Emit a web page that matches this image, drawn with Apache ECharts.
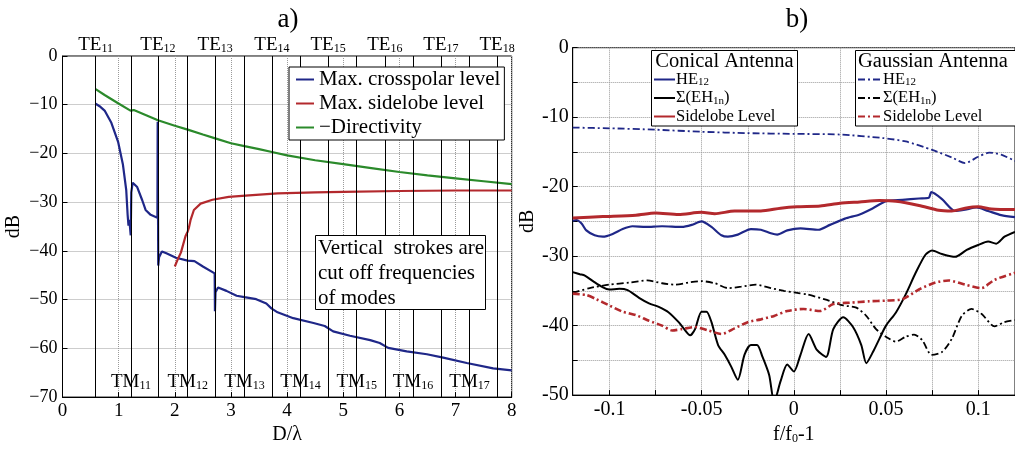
<!DOCTYPE html>
<html lang="en">
<head>
<meta charset="utf-8">
<title>Waveguide modes and antenna levels</title>
<script src="https://cdn.jsdelivr.net/npm/echarts@6/dist/echarts.min.js"></script>
<style>
  html, body { margin: 0; padding: 0; background: #fff; }
  #main { width: 1015px; height: 450px; }
</style>
</head>
<body>
<div id="main"></div>
<script>
// ---------- panel a) ----------
var teCut = [0.59, 1.70, 2.72, 3.73, 4.73, 5.74, 6.74, 7.74];
var teIdx = ['11', '12', '13', '14', '15', '16', '17', '18'];
var tmCut = [1.22, 2.23, 3.24, 4.24, 5.24, 6.24, 7.25];
var tmIdx = ['11', '12', '13', '14', '15', '16', '17'];

var crossPolar = [
  [0.59, -9.8], [0.66, -10.3], [0.75, -11.2], [0.87, -13.7], [0.99, -17.6], [1.075, -22.2],
  [1.135, -27.5], [1.16, -32.6], [1.175, -34.8], [1.19, -33.6], [1.215, -36.8], [1.225, -28.0],
  [1.25, -26.0], [1.27, -25.9], [1.33, -26.9], [1.42, -29.6], [1.48, -31.6], [1.57, -32.6],
  [1.69, -33.2], [1.695, -13.5], [1.70, -13.5], [1.705, -43.0], [1.72, -41.3], [1.77, -40.1],
  [1.85, -40.5], [2.02, -41.4], [2.23, -42.0], [2.35, -42.1], [2.5, -43.2], [2.71, -44.6],
  [2.715, -52.4], [2.725, -48.5], [2.77, -47.5], [2.92, -48.2], [3.1, -49.2], [3.24, -49.5],
  [3.45, -49.9], [3.63, -50.8], [3.72, -51.8], [3.83, -52.6], [4.11, -53.8], [4.47, -54.8],
  [4.67, -55.4], [4.82, -56.5], [5.12, -57.4], [5.48, -58.3], [5.65, -58.9], [5.8, -59.9],
  [6.13, -60.6], [6.49, -61.2], [6.78, -61.9], [7.2, -63.0], [7.67, -64.1], [8.0, -64.5]
];
var sidelobeA = [
  [2.0, -43.2], [2.05, -41.8], [2.11, -40.3], [2.19, -37.0], [2.23, -36.0], [2.25, -35.3],
  [2.28, -33.7], [2.34, -31.6], [2.46, -30.3], [2.67, -29.5], [2.96, -28.9], [3.32, -28.6],
  [3.83, -28.2], [4.5, -28.0], [5.0, -27.9], [6.0, -27.7], [7.0, -27.6], [8.0, -27.6]
];
var directivity = [
  [0.59, -6.8], [0.75, -8.0], [0.99, -9.7], [1.21, -11.2], [1.24, -11.0], [1.27, -11.1],
  [1.5, -12.2], [1.70, -13.2], [2.0, -14.3], [2.23, -15.1], [2.5, -16.1], [2.72, -16.9],
  [3.0, -17.9], [3.24, -18.5], [3.5, -19.1], [3.73, -19.7], [4.0, -20.4], [4.5, -21.4],
  [5.0, -22.2], [5.5, -23.0], [6.0, -23.8], [6.5, -24.5], [7.0, -25.1], [7.5, -25.7], [8.0, -26.3]
];

// ---------- panel b) ----------
var bTicks = [-0.1, -0.075, -0.05, -0.025, 0, 0.025, 0.05, 0.075, 0.1];
var bLabels = [-0.1, -0.05, 0, 0.05, 0.1];

var coneHE12 = [
  [-0.12, -24.9], [-0.118, -24.8], [-0.1152, -25.3], [-0.1126, -26.3], [-0.1081, -27.0],
  [-0.1036, -27.2], [-0.0983, -26.8], [-0.0929, -26.1], [-0.0876, -25.7], [-0.0804, -25.8],
  [-0.0715, -25.7], [-0.0608, -25.8], [-0.0554, -25.5], [-0.0501, -25.0], [-0.0447, -25.8],
  [-0.0393, -27.0], [-0.0358, -27.2], [-0.0304, -26.9], [-0.0233, -26.1], [-0.0179, -26.2],
  [-0.0125, -26.7], [-0.009, -26.9], [-0.0036, -26.3], [0.0036, -26.0], [0.0134, -26.2],
  [0.0196, -25.5], [0.0277, -24.6], [0.0357, -24.0], [0.0429, -23.1], [0.05, -22.1],
  [0.0589, -21.9], [0.0679, -21.7], [0.0732, -21.6], [0.0746, -20.8], [0.0804, -21.8],
  [0.0875, -23.5], [0.0929, -23.3], [0.0991, -23.0], [0.1054, -23.5], [0.1125, -24.1], [0.12, -24.4]
];
var coneEH = [
  [-0.12, -32.3], [-0.1161, -32.6], [-0.1134, -32.8], [-0.109, -33.6], [-0.1036, -34.5],
  [-0.1001, -34.8], [-0.0947, -34.7], [-0.0902, -34.9], [-0.084, -36.0], [-0.0786, -36.8],
  [-0.0733, -37.3], [-0.0679, -38.1], [-0.0625, -39.5], [-0.0598, -40.4], [-0.0563, -41.4],
  [-0.0536, -40.5], [-0.0501, -38.0], [-0.0474, -38.0], [-0.0447, -39.5], [-0.0411, -42.8],
  [-0.0375, -44.2], [-0.034, -45.9], [-0.0304, -47.8], [-0.0268, -44.2], [-0.0233, -42.8],
  [-0.02, -42.8], [-0.017, -44.5], [-0.0134, -47.1], [-0.0107, -51.0], [-0.0072, -48.0],
  [-0.0036, -45.6], [0, -46.6], [0.0036, -44.2], [0.008, -41.2], [0.0125, -43.5],
  [0.0175, -44.5], [0.0214, -40.5], [0.0268, -38.8], [0.0321, -40.2], [0.0366, -42.8],
  [0.0393, -45.4], [0.0429, -43.8], [0.0464, -41.9], [0.05, -40.0], [0.0554, -38.1],
  [0.0607, -35.5], [0.0661, -32.4], [0.0714, -29.8], [0.075, -29.2], [0.0804, -29.7],
  [0.0875, -30.1], [0.0938, -29.1], [0.1, -28.4], [0.1054, -27.9], [0.1098, -28.2],
  [0.1143, -27.2], [0.12, -26.5]
];
var coneSide = [
  [-0.12, -24.5], [-0.1036, -24.3], [-0.0857, -24.1], [-0.0751, -23.8], [-0.0626, -24.0],
  [-0.0501, -23.7], [-0.0429, -23.9], [-0.0322, -23.5], [-0.0179, -23.5], [-0.0072, -23.1],
  [0.0018, -22.9], [0.0143, -22.8], [0.025, -22.4], [0.0357, -22.2], [0.0464, -22.0],
  [0.0554, -22.1], [0.0679, -22.7], [0.0786, -23.4], [0.0857, -23.5], [0.0929, -23.1],
  [0.1, -22.9], [0.1072, -23.2], [0.12, -23.3]
];
var gaussHE12 = [
  [-0.12, -11.5], [-0.1, -11.6], [-0.075, -11.8], [-0.05, -12.1], [-0.025, -12.3], [0, -12.4],
  [0.025, -12.5], [0.0482, -13.0], [0.0607, -13.5], [0.075, -14.7], [0.0857, -15.8],
  [0.0929, -16.6], [0.1, -15.7], [0.106, -15.1], [0.1125, -15.4], [0.12, -16.3]
];
var gaussEH = [
  [-0.12, -35.3], [-0.1108, -34.6], [-0.1001, -34.1], [-0.0893, -33.8], [-0.0795, -33.5],
  [-0.0715, -33.9], [-0.0644, -34.1], [-0.0572, -33.8], [-0.0501, -33.6], [-0.0429, -33.9],
  [-0.0358, -34.6], [-0.0286, -34.4], [-0.0206, -34.1], [-0.0125, -34.6], [-0.0054, -35.0],
  [0.0018, -35.3], [0.0071, -35.5], [0.0179, -36.3], [0.0268, -37.1], [0.0339, -37.4],
  [0.0393, -38.6], [0.0446, -40.5], [0.05, -41.6], [0.0554, -42.3], [0.0607, -41.6],
  [0.0652, -41.3], [0.0697, -42.1], [0.0747, -44.2], [0.0804, -43.8], [0.0857, -41.9],
  [0.0911, -38.6], [0.0964, -37.6], [0.1018, -38.3], [0.1089, -40.1], [0.1143, -39.5], [0.12, -39.2]
];
var gaussSide = [
  [-0.12, -35.4], [-0.1126, -35.6], [-0.1072, -36.2], [-0.1001, -37.1], [-0.0929, -38.0],
  [-0.0857, -38.5], [-0.0786, -39.3], [-0.0715, -40.0], [-0.0661, -40.7], [-0.0608, -40.5],
  [-0.0536, -40.2], [-0.0465, -40.7], [-0.0393, -41.2], [-0.0322, -40.4], [-0.025, -39.5],
  [-0.0179, -39.1], [-0.0107, -38.6], [-0.0036, -37.9], [0.0053, -37.6], [0.0143, -37.9],
  [0.0214, -36.9], [0.0304, -36.7], [0.0411, -36.5], [0.05, -36.4], [0.0589, -36.2],
  [0.0679, -34.8], [0.0768, -33.8], [0.084, -33.5], [0.0929, -34.1], [0.1018, -34.6],
  [0.1089, -33.4], [0.12, -32.4]
];

var FONT = 'Liberation Serif';
var BLUE = '#1f2788', RED = '#b3292d', GREEN = '#2b8a2b', BLACK = '#000';
var DASHDOT = [7, 3, 2, 3];

var subRich = {
  m: { fontFamily: FONT, fontSize: 19, color: '#000' },
  s: { fontFamily: FONT, fontSize: 12, color: '#000', padding: [7, 0, 0, 0] }
};
var legRich = {
  t: { fontFamily: FONT, fontSize: 16.5, color: '#000' },
  s: { fontFamily: FONT, fontSize: 11, color: '#000', padding: [6, 0, 0, 0] }
};
var legNames = {
  'Conical HE12': '{t|HE}{s|12}', 'Conical EH': '{t|\u03a3(EH}{s|1n}{t|)}', 'Conical SL': '{t|Sidelobe Level}',
  'Gaussian HE12': '{t|HE}{s|12}', 'Gaussian EH': '{t|\u03a3(EH}{s|1n}{t|)}', 'Gaussian SL': '{t|Sidelobe Level}'
};

function minusFmt(v) { return v < 0 ? '\u2212' + (-v) : String(v); }

function axisCommon(extra) {
  var base = {
    type: 'value',
    axisLine: { show: true, onZero: false, lineStyle: { color: '#000', width: 1 } },
    axisTick: { show: true, inside: true, length: 5, lineStyle: { color: '#000' } },
    splitLine: { show: true, lineStyle: { type: 'dotted', color: '#9a9a9a', width: 1 } },
    nameLocation: 'middle',
    nameTextStyle: { fontFamily: FONT, fontSize: 20, color: '#000' }
  };
  for (var k in extra) base[k] = extra[k];
  return base;
}

function lineSeries(name, data, xi, color, width, dash) {
  return {
    type: 'line', name: name, data: data, xAxisIndex: xi, yAxisIndex: xi,
    symbol: 'none', showSymbol: false, smooth: xi === 1 ? 0.25 : false,
    lineStyle: { color: color, width: width, type: dash || 'solid' },
    itemStyle: { color: color }, z: 3
  };
}

var chart = echarts.init(document.getElementById('main'), null, { renderer: 'canvas' });

chart.setOption({
  animation: false,
  backgroundColor: '#fff',
  grid: [
    { left: 62.5, right: 503.3, top: 56, bottom: 39.3, show: true, borderColor: '#000', borderWidth: 1, backgroundColor: 'transparent' },
    { left: 572.7, right: -5.9, top: 47.7, bottom: 49, show: true, borderColor: '#000', borderWidth: 1, backgroundColor: 'transparent' }
  ],
  xAxis: [
    axisCommon({
      gridIndex: 0, min: 0, max: 8, interval: 1,
      axisLabel: { fontFamily: FONT, fontSize: 19, color: '#000', margin: 4 },
      name: 'D/\u03bb', nameGap: 19
    }),
    axisCommon({
      gridIndex: 1, min: -0.12, max: 0.12,
      axisTick: { show: true, inside: true, length: 5, customValues: bTicks, lineStyle: { color: '#000' } },
      axisLabel: { fontFamily: FONT, fontSize: 20, color: '#000', margin: 5, customValues: bLabels },
      name: '{n|f/f}{s|0}{n|-1}', nameGap: 23,
      nameTextStyle: {
        rich: {
          n: { fontFamily: FONT, fontSize: 20, color: '#000' },
          s: { fontFamily: FONT, fontSize: 12, color: '#000', padding: [8, 0, 0, 0] }
        }
      }
    })
  ],
  yAxis: [
    axisCommon({
      gridIndex: 0, min: -70, max: 0, interval: 10,
      axisLabel: { fontFamily: FONT, fontSize: 18, color: '#000', margin: 5, formatter: minusFmt },
      name: 'dB', nameGap: 39, nameRotate: 90
    }),
    axisCommon({
      gridIndex: 1, min: -50, max: 0, interval: 5,
      axisLabel: {
        fontFamily: FONT, fontSize: 20, color: '#000', margin: 4,
        formatter: function (v) { return v % 10 === 0 ? String(v) : ''; }
      },
      name: 'dB', nameGap: 34, nameRotate: 90
    })
  ],
  legend: [
    {
      data: ['Max. crosspolar level', 'Max. sidelobe level', '\u2212Directivity'],
      orient: 'vertical', left: 289, top: 67, z: 6,
      backgroundColor: '#fff', borderColor: '#000', borderWidth: 1,
      padding: [2, 4, 2, 6], itemGap: 3, itemWidth: 18, itemHeight: 12,
      selectedMode: false, itemStyle: { opacity: 0 },
      textStyle: { fontFamily: FONT, fontSize: 21, color: '#000' }
    },
    {
      data: ['Conical HE12', 'Conical EH', 'Conical SL'],
      orient: 'vertical', left: 653, top: 71, z: 20, padding: 0,
      itemGap: 1.5, itemWidth: 21, itemHeight: 10, selectedMode: false,
      itemStyle: { opacity: 0 },
      formatter: function (n) { return legNames[n]; },
      textStyle: { rich: legRich, padding: [0, 0, 0, -4] }
    },
    {
      data: ['Gaussian HE12', 'Gaussian EH', 'Gaussian SL'],
      orient: 'vertical', left: 857, top: 71, z: 20, padding: 0,
      itemGap: 1.5, itemWidth: 24, itemHeight: 10, selectedMode: false,
      itemStyle: { opacity: 0 },
      formatter: function (n) { return legNames[n]; },
      textStyle: { rich: legRich, padding: [0, 0, 0, -4] }
    }
  ],
  graphic: [
    { type: 'text', x: 288, y: 20, z: 30, style: { text: 'a)', fontFamily: FONT, fontSize: 27, fill: '#000', align: 'center', verticalAlign: 'middle' } },
    { type: 'text', x: 797, y: 20, z: 30, style: { text: 'b)', fontFamily: FONT, fontSize: 27, fill: '#000', align: 'center', verticalAlign: 'middle' } },
    { type: 'rect', z: 10, shape: { x: 315.5, y: 235.5, width: 170, height: 74 }, style: { fill: '#fff', stroke: '#000', lineWidth: 1 } },
    { type: 'text', x: 318, y: 236, z: 11, style: { text: 'Vertical  strokes are\ncut off frequencies\nof modes', fontFamily: FONT, fontSize: 21, lineHeight: 25, fill: '#000', align: 'left', verticalAlign: 'top' } },
    { type: 'rect', z: 10, shape: { x: 651.5, y: 50.5, width: 146, height: 75.5 }, style: { fill: '#fff', stroke: '#000', lineWidth: 1 } },
    { type: 'text', x: 724.5, y: 62, z: 11, style: { text: 'Conical Antenna', fontFamily: FONT, fontSize: 20.5, fill: '#000', align: 'center', verticalAlign: 'middle' } },
    { type: 'rect', z: 10, shape: { x: 855.5, y: 50.5, width: 175, height: 75.5 }, style: { fill: '#fff', stroke: '#000', lineWidth: 1 } },
    { type: 'text', x: 858, y: 62, z: 11, style: { text: 'Gaussian Antenna', fontFamily: FONT, fontSize: 20.5, fill: '#000', align: 'left', verticalAlign: 'middle' } }
  ],
  series: [
    // mode cut-off strokes
    {
      type: 'line', name: 'TE cut-offs', data: [], xAxisIndex: 0, yAxisIndex: 0, silent: true,
      markLine: {
        silent: true, symbol: 'none', animation: false,
        lineStyle: { color: '#000', width: 1, type: 'solid' },
        label: {
          show: true, position: 'end', distance: 1,
          formatter: function (p) { return '{m|TE}{s|' + p.name + '}'; }, rich: subRich
        },
        data: teCut.map(function (x, i) { return { xAxis: x, name: teIdx[i] }; })
      }
    },
    {
      type: 'line', name: 'TM cut-offs', data: [], xAxisIndex: 0, yAxisIndex: 0, silent: true,
      markLine: {
        silent: true, symbol: 'none', animation: false,
        lineStyle: { color: '#000', width: 1, type: 'solid' },
        label: { show: false },
        data: tmCut.map(function (x) { return { xAxis: x }; })
      },
      markPoint: {
        silent: true, symbol: 'circle', symbolSize: 0, animation: false,
        itemStyle: { color: '#000' },
        label: {
          show: true, position: 'inside', color: '#000',
          formatter: function (p) { return '{m|TM}{s|' + p.name + '}'; }, rich: subRich
        },
        data: tmCut.map(function (x, i) { return { coord: [x, -67], name: tmIdx[i] }; })
      }
    },
    lineSeries('Max. crosspolar level', crossPolar, 0, BLUE, 2.2),
    lineSeries('Max. sidelobe level', sidelobeA, 0, RED, 2.2),
    lineSeries('\u2212Directivity', directivity, 0, GREEN, 2.2),

    lineSeries('Conical HE12', coneHE12, 1, BLUE, 2.2),
    lineSeries('Conical EH', coneEH, 1, BLACK, 2),
    lineSeries('Conical SL', coneSide, 1, RED, 3),
    lineSeries('Gaussian HE12', gaussHE12, 1, BLUE, 1.8, DASHDOT),
    lineSeries('Gaussian EH', gaussEH, 1, BLACK, 1.8, DASHDOT),
    lineSeries('Gaussian SL', gaussSide, 1, RED, 2.6, DASHDOT)
  ]
});

window.onresize = chart.resize;
</script>
</body>
</html>
